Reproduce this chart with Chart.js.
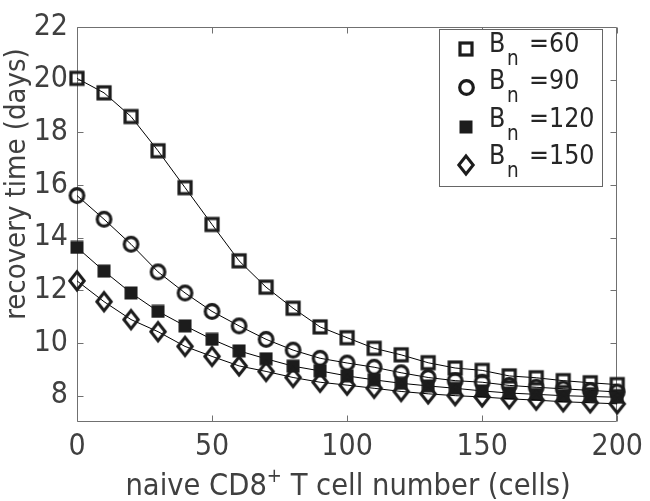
<!DOCTYPE html>
<html><head><meta charset="utf-8">
<script src="https://cdn.jsdelivr.net/npm/chart.js@4/dist/chart.umd.min.js"></script>
<style>html,body{margin:0;padding:0;background:#fff}#wrap{width:650px;height:501px;position:relative}</style>
</head><body><div id="wrap"><canvas id="c"></canvas></div>
<script>
// ---- data ----
const cells = [0,10,20,30,40,50,60,70,80,90,100,110,120,130,140,150,160,170,180,190,200];
const bn60  = [20.05,19.5,18.6,17.3,15.9,14.5,13.12,12.12,11.32,10.61,10.2,9.8,9.55,9.25,9.05,8.96,8.75,8.68,8.57,8.49,8.42];
const bn90  = [15.6,14.7,13.75,12.7,11.9,11.2,10.65,10.14,9.73,9.42,9.24,9.08,8.87,8.69,8.57,8.51,8.39,8.32,8.26,8.2,8.14];
const bn120 = [13.63,12.73,11.9,11.2,10.65,10.14,9.7,9.4,9.12,8.94,8.75,8.6,8.47,8.37,8.28,8.18,8.1,8.05,8.0,7.97,7.94];
const bn150 = [12.36,11.57,10.89,10.43,9.87,9.49,9.13,8.92,8.69,8.51,8.4,8.28,8.16,8.07,8.0,7.95,7.88,7.83,7.77,7.73,7.69];
const seriesValues = ['60','90','120','150'];
const xTicks = [0,50,100,150,200];
const yTicks = [8,10,12,14,16,18,20,22];
const xTitleParts = ['naive CD8','+',' T cell number (cells)'];
const yTitle = 'recovery time (days)';

// ---- style ----
const FONT = '"DejaVu Sans Condensed", "DejaVu Sans", sans-serif';
const TXT = '#404040';
const AXIS = '#707070';
const MK = '#1c1c1c';

function mk(w,h,draw){const c=document.createElement('canvas');c.width=w;c.height=h;const g=c.getContext('2d');g.strokeStyle=MK;g.fillStyle=MK;draw(g);return c;}
const mSquare = mk(18,18,g=>{g.lineWidth=3.2;g.strokeRect(3,3,12,12);});
const mCircle = mk(19,19,g=>{g.lineWidth=3.2;g.beginPath();g.arc(9.5,9.5,6.8,0,2*Math.PI);g.stroke();});
const mFilled = mk(14,14,g=>{g.fillRect(0.5,0.5,13,13);});
const mDiamond = mk(22,28,g=>{g.lineWidth=3;g.lineJoin='miter';g.beginPath();g.moveTo(11,5);g.lineTo(18.2,14);g.lineTo(11,23);g.lineTo(3.8,14);g.closePath();g.stroke();});
const markers = [mSquare,mCircle,mFilled,mDiamond];

const seriesData = [bn60,bn90,bn120,bn150];
const datasets = seriesData.map((arr,k)=>({
  label: 'Bn=' + seriesValues[k],
  data: cells.map((c,i)=>({x:c,y:arr[i]})),
  borderColor: '#000', borderWidth: 1,
  pointStyle: markers[k], pointRadius: 8,
  backgroundColor: 'transparent',
  showLine: true, tension: 0, clip: false,
  order: 3 - k
}));

const decor = {
  id: 'decor',
  beforeDatasetsDraw(chart){
    const {ctx, chartArea:a, scales:{x,y}} = chart;
    ctx.save();
    ctx.strokeStyle = AXIS; ctx.lineWidth = 1;
    const L=Math.round(a.left)+0.5, R=Math.round(a.right)-0.5, T=Math.round(a.top)+0.5, B=Math.round(a.bottom)-0.5;
    ctx.beginPath();
    ctx.rect(L,T,R-L,B-T);
    const tl = 6;
    xTicks.forEach(v=>{const p=Math.round(x.getPixelForValue(v))+0.5; ctx.moveTo(p,B); ctx.lineTo(p,B-tl); ctx.moveTo(p,T); ctx.lineTo(p,T+tl);});
    yTicks.forEach(v=>{const p=Math.round(y.getPixelForValue(v))+0.5; ctx.moveTo(L,p); ctx.lineTo(L+tl,p); ctx.moveTo(R,p); ctx.lineTo(R-tl,p);});
    ctx.stroke();
    // axis titles
    ctx.fillStyle = TXT;
    const big = '30.5px ' + FONT, sup = '20px ' + FONT;
    ctx.font = big;
    const w0 = ctx.measureText(xTitleParts[0]).width, w2 = ctx.measureText(xTitleParts[2]).width;
    ctx.font = sup; const w1 = ctx.measureText(xTitleParts[1]).width;
    const cx = (a.left + a.right)/2 + 1; const by = 495;
    let sx = cx - (w0+w1+w2)/2;
    ctx.textBaseline = 'alphabetic'; ctx.textAlign = 'left';
    ctx.font = big; ctx.fillText(xTitleParts[0], sx, by);
    ctx.font = sup; ctx.fillText(xTitleParts[1], sx+w0, by-13);
    ctx.font = big; ctx.fillText(xTitleParts[2], sx+w0+w1, by);
    ctx.save();
    ctx.translate(17,184); ctx.rotate(-Math.PI/2);
    ctx.textAlign='center'; ctx.textBaseline='middle'; ctx.font = '29px ' + FONT;
    ctx.fillText(yTitle,0,0);
    ctx.restore();
    ctx.restore();
  },
  afterDraw(chart){
    const {ctx} = chart;
    ctx.save();
    ctx.fillStyle='#fff'; ctx.strokeStyle='#666'; ctx.lineWidth=1;
    ctx.fillRect(439.5,29.5,163,157); ctx.strokeRect(439.5,29.5,163,157);
    const fB = '26.5px ' + FONT, fS = '20.5px ' + FONT;
    ctx.fillStyle = '#262626'; ctx.textAlign='left'; ctx.textBaseline='alphabetic';
    for(let i=0;i<4;i++){
      const base = 52 + i*37.3;
      const my = 49 + i*38.8;
      const m = markers[i];
      ctx.drawImage(m, Math.round(466 - m.width/2), Math.round(my - m.height/2));
      ctx.font = fB; ctx.fillText('B', 489, base);
      ctx.font = fS; ctx.fillText('n', 507, base+13);
      ctx.font = fB; ctx.fillText('=' + seriesValues[i], 529, base);
    }
    ctx.restore();
  }
};

new Chart(document.getElementById('c'), {
  type: 'line',
  data: { datasets },
  options: {
    responsive: true, maintainAspectRatio: false, animation: false, events: [],
    layout: { padding: { top: 14, right: 27, left: 0, bottom: 0 } },
    plugins: { legend: { display: false }, tooltip: { enabled: false } },
    scales: {
      x: {
        type: 'linear', min: 0, max: 200,
        afterBuildTicks: s => { s.ticks = xTicks.map(v=>({value:v})); },
        afterFit: s => { s.height = 79; },
        grid: { display: false, drawTicks: false }, border: { display: false },
        ticks: { font: { family: FONT, size: 30 }, color: TXT, padding: 7, maxRotation: 0, autoSkip: false }
      },
      y: {
        type: 'linear', min: 7, max: 22,
        afterBuildTicks: s => { s.ticks = yTicks.map(v=>({value:v})); },
        afterFit: s => { s.width = 77; },
        grid: { display: false, drawTicks: false }, border: { display: false },
        ticks: { font: { family: FONT, size: 30 }, color: TXT, padding: 9, autoSkip: false }
      }
    }
  },
  plugins: [decor]
});
</script>
</body></html>
